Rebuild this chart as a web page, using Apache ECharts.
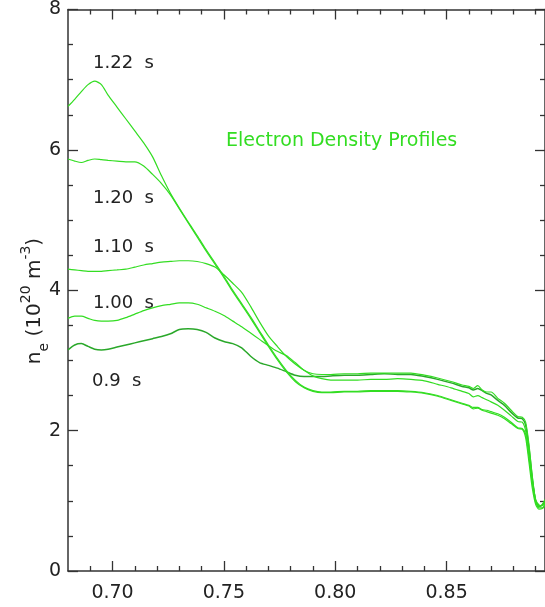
<!DOCTYPE html>
<html>
<head>
<meta charset="utf-8">
<script src="https://cdn.jsdelivr.net/npm/echarts@6/dist/echarts.min.js"></script>
<style>
html,body{margin:0;padding:0;background:#fff;}
#chart{width:545px;height:607px;}
</style>
</head>
<body>
<div id="chart"></div>
<script>
// radius grid shared by all profiles
var rho = [0.680,0.683,0.686,0.689,0.692,0.695,0.698,0.702,0.706,0.710,
           0.714,0.718,0.722,0.726,0.730,0.734,0.738,0.742,0.746,0.750,
           0.754,0.758,0.762,0.766,0.770,0.774,0.778,0.782,0.786,0.790,
           0.794,0.798,0.804,0.810,0.816,0.822,0.828,0.834,0.840,0.846,
           0.852,0.857,0.860,0.862,0.864,0.866,0.868,0.870,0.873,0.876,
           0.879,0.882,0.884,0.8855,0.887,0.8885,0.890,0.8915,0.893,0.8942];

var ne090 = [3.15,3.22,3.24,3.20,3.16,3.15,3.16,3.19,3.22,3.25,
             3.28,3.31,3.34,3.38,3.44,3.45,3.44,3.40,3.32,3.27,
             3.24,3.18,3.06,2.97,2.93,2.89,2.84,2.79,2.77,2.77,
             2.77,2.78,2.79,2.79,2.80,2.81,2.80,2.80,2.77,2.73,
             2.68,2.63,2.61,2.58,2.60,2.57,2.53,2.51,2.43,2.36,
             2.26,2.18,2.17,2.08,1.75,1.32,1.00,0.92,0.94,1.00];
var ne100 = [3.60,3.63,3.63,3.60,3.57,3.56,3.56,3.57,3.61,3.66,
             3.71,3.75,3.78,3.80,3.82,3.82,3.80,3.75,3.70,3.64,
             3.56,3.48,3.39,3.30,3.21,3.13,3.07,2.97,2.86,2.81,
             2.80,2.80,2.81,2.81,2.82,2.82,2.82,2.82,2.79,2.75,
             2.70,2.65,2.63,2.60,2.64,2.58,2.55,2.55,2.46,2.39,
             2.29,2.20,2.19,2.12,1.80,1.35,1.00,0.92,0.95,1.02];
var ne110 = [4.30,4.29,4.28,4.27,4.27,4.27,4.28,4.29,4.30,4.33,
             4.36,4.38,4.40,4.41,4.42,4.42,4.41,4.38,4.33,4.22,
             4.10,3.97,3.77,3.55,3.35,3.20,3.06,2.95,2.86,2.78,
             2.74,2.72,2.72,2.72,2.73,2.73,2.74,2.73,2.71,2.66,
             2.61,2.56,2.53,2.48,2.50,2.47,2.44,2.41,2.36,2.29,
             2.21,2.13,2.12,2.00,1.70,1.30,1.02,0.94,0.93,0.98];
var ne120 = [5.87,5.84,5.82,5.85,5.87,5.86,5.85,5.84,5.83,5.83,
             5.77,5.65,5.52,5.36,5.16,4.96,4.76,4.56,4.37,4.18,
             3.98,3.79,3.60,3.40,3.20,3.01,2.84,2.70,2.61,2.56,
             2.54,2.54,2.55,2.55,2.56,2.56,2.56,2.55,2.53,2.49,
             2.43,2.38,2.35,2.31,2.32,2.29,2.27,2.25,2.22,2.17,
             2.10,2.03,2.02,1.90,1.55,1.18,0.95,0.88,0.89,0.94];
var ne122 = [6.62,6.72,6.83,6.93,6.98,6.93,6.78,6.61,6.44,6.27,
             6.10,5.90,5.63,5.38,5.17,4.97,4.78,4.58,4.39,4.20,
             4.00,3.81,3.62,3.42,3.22,3.03,2.86,2.72,2.62,2.57,
             2.55,2.55,2.56,2.56,2.57,2.57,2.57,2.56,2.54,2.50,
             2.44,2.39,2.36,2.33,2.33,2.30,2.29,2.27,2.24,2.19,
             2.12,2.04,2.03,1.95,1.62,1.25,0.98,0.90,0.90,0.96];

var timeLabels = ['0.9  s','1.00  s','1.10  s','1.20  s','1.22  s'];
var xMajor = [0.70,0.75,0.80,0.85];
var xMinor = [0.69,0.71,0.72,0.73,0.74,0.76,0.77,0.78,0.79,0.81,0.82,0.83,0.84,0.86,0.87,0.88,0.89];

var GREEN = '#33dd22';
var INK = '#333';
var FONT = 'DejaVu Sans';

function pairs(ys){
    return rho.map(function(x,i){ return [x, ys[i]]; });
}

function xAxisCfg(pos, ticks, len, withLine, withLabel){
    return {
        type:'value', position:pos, min:0.68, max:0.8942,
        axisLine:{ show:withLine, onZero:false, lineStyle:{ color:INK, width:1.5 } },
        axisTick:{ show:true, inside:true, length:len, customValues:ticks, lineStyle:{ color:INK, width:1.3 } },
        axisLabel:{ show:withLabel, customValues:ticks, margin:13, fontSize:19, color:'#222', fontFamily:FONT,
            formatter:function(v){ return v.toFixed(2); } },
        splitLine:{ show:false }
    };
}

function yAxisCfg(pos, withLabel){
    return {
        type:'value', position:pos, min:0, max:8, interval:2,
        axisLine:{ show:true, onZero:false, lineStyle:{ color:INK, width:1.5 } },
        axisTick:{ show:true, inside:true, length:10, lineStyle:{ color:INK, width:1.3 } },
        minorTick:{ show:true, splitNumber:4, length:5, lineStyle:{ color:INK, width:1.3 } },
        axisLabel:{ show:withLabel, margin:7, fontSize:19, color:'#222', fontFamily:FONT },
        splitLine:{ show:false }
    };
}

var chart = echarts.init(document.getElementById('chart'));

var profiles = [ne090, ne100, ne110, ne120, ne122];
var series = profiles.map(function(ys, i){
    return {
        name: timeLabels[i], type:'line', xAxisIndex:0, yAxisIndex:0,
        data: pairs(ys), showSymbol:false, smooth:0.25,
        lineStyle:{ color: i === 0 ? '#2aa82a' : GREEN, width: i === 0 ? 1.5 : 1.2 },
        itemStyle:{ color: GREEN }, animation:false
    };
});

// annotation positions (pixels) for the time labels
var labelPos = [[92,381],[93,303],[93,247],[93,198],[93,63]];
var graphics = timeLabels.map(function(t, i){
    return { type:'text', x:labelPos[i][0], y:labelPos[i][1],
        style:{ text:t, font:'18px "' + FONT + '"', fill:'#222', align:'left', verticalAlign:'middle' } };
});
graphics.push({ type:'text', x:226, y:141,
    style:{ text:'Electron Density Profiles', font:'19px "' + FONT + '"', fill:GREEN, align:'left', verticalAlign:'middle' } });
graphics.push({ type:'text', x:35, y:301, rotation:Math.PI/2,
    style:{
        text:'{b|n}{sub|e}{b| (10}{sup|20}{b| m}{sup|-3}{b|)}',
        align:'center', verticalAlign:'middle',
        rich:{
            b:{ fontSize:20, fontFamily:FONT, fill:'#222', lineHeight:32, verticalAlign:'middle' },
            sub:{ fontSize:14, fontFamily:FONT, fill:'#222', verticalAlign:'bottom' },
            sup:{ fontSize:14, fontFamily:FONT, fill:'#222', verticalAlign:'top' }
        }
    } });

chart.setOption({
    backgroundColor:'#fff',
    animation:false,
    grid:{ left:68, top:5.5, width:478, height:565.5, containLabel:false },
    xAxis:[
        xAxisCfg('bottom', xMajor, 10, true, true),
        xAxisCfg('bottom', xMinor, 5, false, false),
        xAxisCfg('top', xMajor, 10, true, false),
        xAxisCfg('top', xMinor, 5, false, false)
    ],
    yAxis:[ yAxisCfg('left', true), yAxisCfg('right', false) ],
    series: series,
    graphic: graphics
});
</script>
</body>
</html>
